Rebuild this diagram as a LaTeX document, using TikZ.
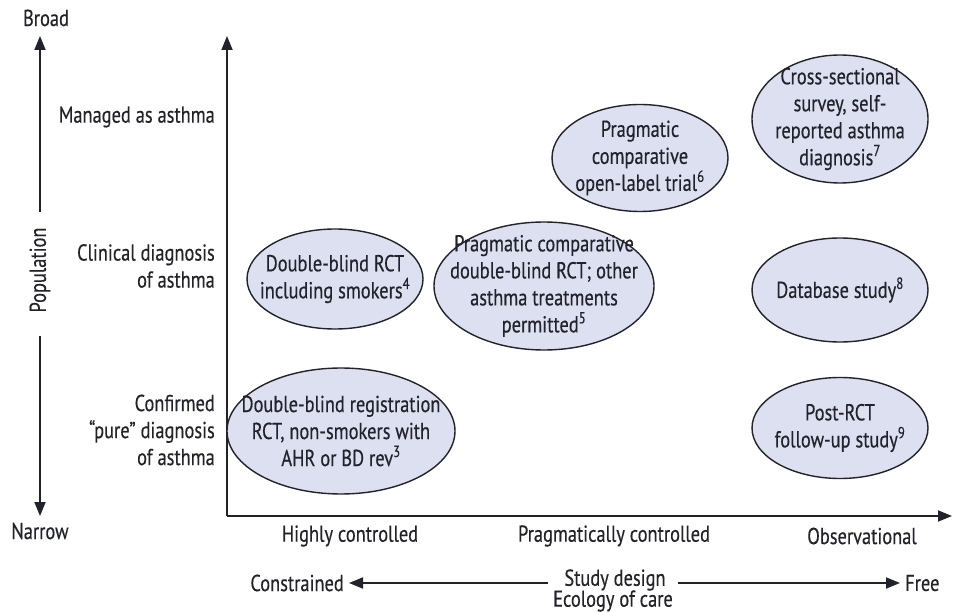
\documentclass[tikz,border=0pt]{standalone}
\usepackage{fontspec}
\setmainfont{PT Sans}[FakeStretch=0.8, FakeBold=0.35]
\usetikzlibrary{shapes.geometric,arrows.meta}
\definecolor{ink}{HTML}{22222A}
\definecolor{bubble}{HTML}{DDE0F0}
\tikzset{
  lbl/.style={text=ink, font=\fontsize{23}{27}\selectfont, inner sep=0pt},
  bub/.style={ellipse, draw=ink, line width=1.4pt, fill=bubble, inner sep=0pt},
  btxt/.style={lbl, align=center},
  axis/.style={draw=ink, line width=1.8pt, -{Triangle[length=14pt,width=11pt]}},
}
\begin{document}
\begin{tikzpicture}[x=1pt,y=-1pt]
\useasboundingbox (0,0) rectangle (953,612);

% main axes
\coordinate (origin) at (227,516);
\coordinate (ytop) at (227,36);
\coordinate (xend) at (952,516);
\draw[axis] (origin) -- (ytop);
\draw[axis] (origin) -- (xend);

% population axis on the left
\node[lbl] (broad) at (46,18) {Broad};
\node[lbl] (narrow) at (40,531) {Narrow};
\node[lbl, rotate=90] (pop) at (40,270) {Population};
\coordinate (popup) at (40,212);
\coordinate (popdn) at (40,336);
\coordinate (popuptip) at (40,36);
\coordinate (popdntip) at (40,516);
\draw[axis] (popup) -- (popuptip);
\draw[axis] (popdn) -- (popdntip);

% population categories
\node[lbl, anchor=east] (r1) at (215,117) {Managed as asthma};
\node[lbl, anchor=east, align=right] (r2) at (215,266) {Clinical diagnosis\\of asthma};
\node[lbl, anchor=east, align=right] (r3) at (215,430) {Confirmed\\\char"201Cpure\char"201D{} diagnosis\\of asthma};

% study design categories
\node[lbl] (c1) at (350,536) {Highly controlled};
\node[lbl] (c2) at (614,536) {Pragmatically controlled};
\node[lbl] (c3) at (862,536) {Observational};

% ecology of care axis
\node[lbl, anchor=east] (constr) at (344,583) {Constrained};
\node[lbl, anchor=west] (free) at (905,583) {Free};
\node[lbl] (design) at (615,580) {Study design};
\node[lbl] (ecology) at (613,601) {Ecology of care};
\coordinate (la) at (548,583);
\coordinate (ra) at (678,583);
\coordinate (lt) at (349,583);
\coordinate (rt) at (900,583);
\draw[axis] (la) -- (lt);
\draw[axis] (ra) -- (rt);

% study types
\node[bub, minimum width=176pt, minimum height=100pt] (e1) at (335,279) {};
\node[btxt] at (e1) {Double-blind RCT\\including smokers\textsuperscript{4}};

\node[bub, minimum width=220pt, minimum height=128pt] (e2) at (544,286) {};
\node[btxt] at (e2) {Pragmatic comparative\\double-blind RCT; other\\asthma treatments\\permitted\textsuperscript{5}};

\node[bub, minimum width=176pt, minimum height=107pt] (e3) at (640,158) {};
\node[btxt] at (e3) {Pragmatic\\comparative\\open-label trial\textsuperscript{6}};

\node[bub, minimum width=176pt, minimum height=128pt] (e4) at (840,119) {};
\node[btxt] at (e4) {Cross-sectional\\survey, self-\\reported asthma\\diagnosis\textsuperscript{7}};

\node[bub, minimum width=176pt, minimum height=104pt] (e5) at (840,290) {};
\node[btxt] at (e5) {Database study\textsuperscript{8}};

\node[bub, minimum width=176pt, minimum height=101pt] (e6) at (840,428) {};
\node[btxt] at (e6) {Post-RCT\\follow-up study\textsuperscript{9}};

\node[bub, minimum width=228pt, minimum height=126pt] (e7) at (341,431) {};
\node[btxt] at (e7) {Double-blind registration\\RCT, non-smokers with\\AHR or BD rev\textsuperscript{3}};
\end{tikzpicture}
\end{document}
